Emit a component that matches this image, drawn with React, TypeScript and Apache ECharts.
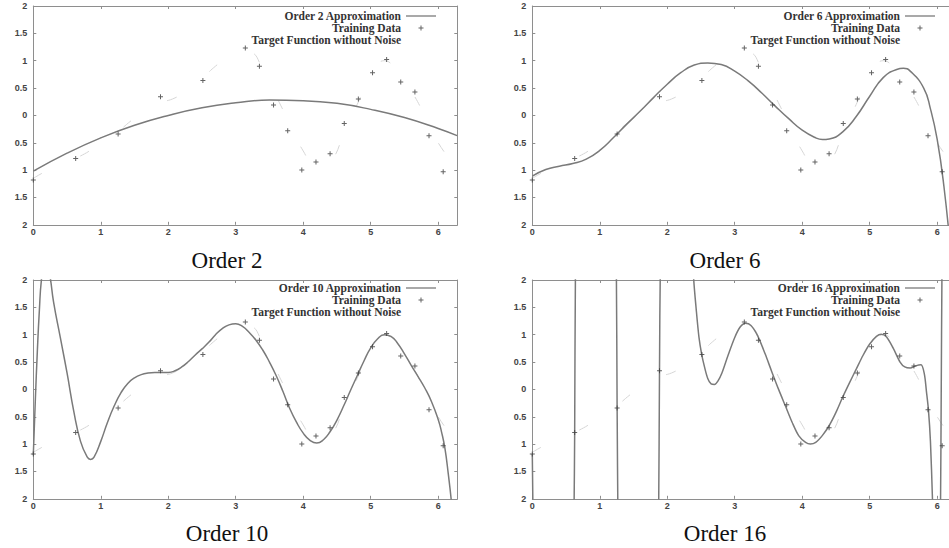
import React, { useEffect, useRef } from 'react';
import * as echarts from 'echarts';

// ---------- data ----------
const panelTitles = ['Order 2', 'Order 6', 'Order 10', 'Order 16'];
const approxNames = ['Order 2 Approximation', 'Order 6 Approximation', 'Order 10 Approximation', 'Order 16 Approximation'];
const trainName = 'Training Data';
const targetName = 'Target Function without Noise';

const xTrain = [0, 0.628, 1.257, 1.885, 2.513, 3.142, 3.351, 3.56, 3.77, 3.979, 4.189, 4.398, 4.608, 4.817, 5.027, 5.236, 5.445, 5.655, 5.864, 6.074];
const yTrain = [-1.18, -0.79, -0.34, 0.34, 0.64, 1.23, 0.9, 0.19, -0.28, -1.0, -0.85, -0.7, -0.15, 0.3, 0.78, 1.02, 0.61, 0.43, -0.37, -1.03];

const xTarget = [0, 0.3, 0.6, 0.9, 1.2, 1.5, 1.8, 2.1, 2.4, 2.7, 3.0, 3.2, 3.4, 3.6, 3.8, 4.0, 4.2, 4.4, 4.6, 4.8, 5.0, 5.2, 5.4, 5.6, 5.8, 6.0, 6.28];
const yTarget = [-1.15, -0.95, -0.8, -0.6, -0.35, -0.05, 0.2, 0.32, 0.55, 0.9, 1.15, 1.15, 0.85, 0.35, -0.15, -0.65, -0.95, -0.85, -0.35, 0.2, 0.72, 1.0, 0.8, 0.45, 0.0, -0.5, -0.97];

const xOrder2 = [0, 0.5, 1, 1.5, 2, 2.5, 3, 3.5, 4, 4.5, 5, 5.5, 6, 6.28];
const yOrder2 = [-1.02, -0.69, -0.41, -0.18, 0.0, 0.14, 0.23, 0.28, 0.27, 0.22, 0.11, -0.04, -0.24, -0.37];

const xOrder6 = [0, 0.2, 0.4, 0.6, 0.8, 1.0, 1.2, 1.4, 1.6, 1.8, 2.0, 2.2, 2.4, 2.6, 2.8, 3.0, 3.2, 3.4, 3.6, 3.8, 4.0, 4.2, 4.3, 4.4, 4.6, 4.8, 5.0, 5.2, 5.4, 5.5, 5.6, 5.8, 5.9, 6.0, 6.1, 6.2];
const yOrder6 = [-1.11, -0.99, -0.93, -0.88, -0.8, -0.64, -0.41, -0.16, 0.08, 0.33, 0.57, 0.78, 0.92, 0.96, 0.93, 0.81, 0.63, 0.41, 0.17, -0.06, -0.27, -0.41, -0.44, -0.43, -0.3, -0.02, 0.35, 0.69, 0.84, 0.86, 0.81, 0.5, 0.12, -0.44, -1.3, -2.5];

const xOrder10 = [0, 0.03, 0.06, 0.09, 0.12, 0.18, 0.25, 0.3, 0.4, 0.5, 0.6, 0.7, 0.8, 0.85, 0.9, 1.0, 1.1, 1.2, 1.3, 1.4, 1.5, 1.6, 1.7, 1.8, 1.9, 2.0, 2.1, 2.2, 2.3, 2.4, 2.5, 2.6, 2.7, 2.8, 2.9, 3.0, 3.1, 3.2, 3.3, 3.4, 3.5, 3.6, 3.7, 3.8, 3.9, 4.0, 4.1, 4.2, 4.3, 4.4, 4.5, 4.6, 4.7, 4.8, 4.9, 5.0, 5.1, 5.2, 5.3, 5.4, 5.5, 5.6, 5.7, 5.8, 5.9, 6.0, 6.05, 6.1, 6.15, 6.2, 6.25];
const yOrder10 = [-1.2, -0.2, 0.7, 1.45, 2.0, 2.5, 2.05, 1.6, 0.95, 0.3, -0.4, -0.95, -1.24, -1.28, -1.24, -0.95, -0.6, -0.3, -0.06, 0.11, 0.21, 0.27, 0.3, 0.31, 0.31, 0.31, 0.34, 0.41, 0.51, 0.63, 0.74, 0.86, 1.0, 1.11, 1.18, 1.2, 1.15, 1.04, 0.9, 0.72, 0.5, 0.25, -0.04, -0.35, -0.6, -0.8, -0.93, -0.98, -0.92, -0.77, -0.56, -0.3, -0.02, 0.25, 0.52, 0.76, 0.92, 1.0, 0.97, 0.84, 0.65, 0.44, 0.24, 0.03, -0.22, -0.55, -0.78, -1.08, -1.55, -2.1, -2.8];

const xOrder16 = [0, 0.012, 0.3, 0.618, 0.628, 0.64, 0.95, 1.245, 1.257, 1.27, 1.57, 1.872, 1.885, 1.898, 2.15, 2.38, 2.39, 2.43, 2.47, 2.51, 2.55, 2.6, 2.65, 2.7, 2.75, 2.81, 2.9, 3.0, 3.08, 3.16, 3.24, 3.34, 3.45, 3.55, 3.65, 3.75, 3.85, 3.95, 4.05, 4.12, 4.2, 4.3, 4.4, 4.5, 4.6, 4.7, 4.8, 4.9, 5.0, 5.1, 5.17, 5.25, 5.35, 5.45, 5.52, 5.6, 5.68, 5.76, 5.81, 5.84, 5.87, 5.9, 5.93, 5.96, 6.0, 6.03, 6.05, 6.06, 6.07, 6.1, 6.283];
const yOrder16 = [-1.18, -2.5, -40, -2.3, -0.79, 2.3, 40, 2.3, -0.34, -2.5, -40, -2.3, 0.34, 2.3, 20, 2.6, 2.05, 1.45, 0.95, 0.64, 0.42, 0.2, 0.1, 0.09, 0.15, 0.3, 0.62, 0.95, 1.14, 1.21, 1.17, 0.98, 0.65, 0.32, 0.0, -0.3, -0.6, -0.85, -0.97, -1.0, -0.97, -0.84, -0.66, -0.42, -0.14, 0.12, 0.37, 0.62, 0.83, 0.97, 1.01, 0.96, 0.75, 0.5, 0.41, 0.39, 0.43, 0.45, 0.28, -0.03, -0.37, -0.95, -2.0, -3.2, -4.5, -3.6, -2.0, 0.0, 2.0, 6, 40];

const approxX = [xOrder2, xOrder6, xOrder10, xOrder16];
const approxY = [yOrder2, yOrder6, yOrder10, yOrder16];

// ---------- layout / style ----------
const X_MAX = 6.2832;
const GRID_LEFT = [33.3, 532.3, 33.3, 532.3];
const GRID_TOP = [6, 6, 280, 280];
const GRID_W = 424;
const GRID_H = 218.8;
const LEGEND_RIGHT = [534, 35, 534, 35];
const LEGEND_TOP = [10, 10, 282, 282];
const TITLE_X = [227, 725, 227, 725];
const TITLE_Y = [260, 260, 533, 533];
const FRAME = '#8e8e8e';
const CURVE = '#7a7a7a';
const LABEL_COLOR = '#444';
const PLUS = 'path://M4,0h2v4h4v2h-4v4h-2v-4h-4v-2h4z';
const PLUS_ICON = 'path://M0,0h0.01v0.01h-0.01zM17.99,17.99h0.01v0.01h-0.01zM8,4h2v4h4v2h-4v4h-2v-4h-4v-2h4z';
const LINE_ICON = 'path://M0,0h30v1.3h-30z';

const pairs = (xs: number[], ys: number[]) => xs.map((x, k) => [x, ys[k]]);

function xAxisFor(gi: number, position: 'bottom' | 'top', showLabel: boolean) {
  return {
    type: 'value', gridIndex: gi, position, min: 0, max: X_MAX, interval: 1,
    axisLine: { show: true, onZero: false, lineStyle: { color: FRAME, width: 1 } },
    axisTick: { show: true, inside: true, length: 3, lineStyle: { color: FRAME } },
    axisLabel: {
      show: showLabel, margin: 3, fontSize: 9, fontWeight: 'bold', fontFamily: 'Liberation Sans', color: LABEL_COLOR,
      formatter: (v: number) => (Number.isInteger(v) ? String(v) : ''),
    },
    splitLine: { show: false },
  };
}

function yAxisFor(gi: number, position: 'left' | 'right', showLabel: boolean) {
  return {
    type: 'value', gridIndex: gi, position, min: -2, max: 2, interval: 0.5,
    axisLine: { show: true, onZero: false, lineStyle: { color: FRAME, width: 1 } },
    axisTick: { show: true, inside: true, length: 3, lineStyle: { color: FRAME } },
    axisLabel: {
      show: showLabel, margin: 6, fontSize: 9, fontWeight: 'bold', fontFamily: 'Liberation Sans', color: LABEL_COLOR,
      formatter: (v: number) => String(Math.abs(v)),
    },
    splitLine: { show: false },
  };
}

function buildOption() {
  const grid: any[] = [];
  const xAxis: any[] = [];
  const yAxis: any[] = [];
  const series: any[] = [];
  const legend: any[] = [];
  const graphic: any[] = [];
  for (let i = 0; i < 4; i++) {
    grid.push({ left: GRID_LEFT[i], top: GRID_TOP[i], width: GRID_W, height: GRID_H, containLabel: false });
    xAxis.push(xAxisFor(i, 'bottom', true), xAxisFor(i, 'top', false));
    yAxis.push(yAxisFor(i, 'left', true), yAxisFor(i, 'right', false));
    const xi = 2 * i;
    series.push(
      {
        type: 'line', name: targetName, xAxisIndex: xi, yAxisIndex: xi,
        data: pairs(xTarget, yTarget), symbol: 'none', smooth: 0.5, silent: true, z: 1,
        itemStyle: { color: '#d6d6d6' },
        lineStyle: { color: '#d6d6d6', width: 1, type: [10, 42] },
      },
      {
        type: 'line', name: approxNames[i], xAxisIndex: xi, yAxisIndex: xi,
        data: pairs(approxX[i], approxY[i]), symbol: 'none', smooth: i === 3 ? 0.3 : 0.5,
        clip: true, silent: true, z: 2,
        itemStyle: { color: CURVE },
        lineStyle: { color: CURVE, width: 1.5 },
      },
      {
        type: 'scatter', name: trainName, xAxisIndex: xi, yAxisIndex: xi,
        data: pairs(xTrain, yTrain), symbol: PLUS, symbolSize: 5, silent: true, z: 3,
        itemStyle: { color: '#3c3c3c' },
      }
    );
    legend.push({
      orient: 'vertical', align: 'right', right: LEGEND_RIGHT[i], top: LEGEND_TOP[i], padding: 0,
      itemWidth: 30, itemHeight: 9, itemGap: 0, selectedMode: false,
      textStyle: { fontFamily: 'Liberation Serif', fontWeight: 'bold', fontSize: 11.5, color: '#333', lineHeight: 9 },
      data: [
        { name: approxNames[i], icon: LINE_ICON },
        { name: trainName, icon: PLUS_ICON },
        { name: targetName, icon: 'none' },
      ],
    });
    graphic.push({
      type: 'text', x: TITLE_X[i], y: TITLE_Y[i],
      style: {
        text: panelTitles[i], font: '23px "Liberation Serif"', fill: '#111',
        align: 'center', verticalAlign: 'middle', textAlign: 'center', textVerticalAlign: 'middle',
      },
    });
  }
  return { animation: false, backgroundColor: '#fff', grid, xAxis, yAxis, series, legend, graphic };
}

export default function App() {
  const ref = useRef<HTMLDivElement>(null);
  useEffect(() => {
    if (!ref.current) return;
    const chart = echarts.init(ref.current, null, { renderer: 'svg' });
    chart.setOption(buildOption() as any);
    return () => chart.dispose();
  }, []);
  return (
    <div style={{ position: 'fixed', left: 0, top: 0, width: 949, height: 548, overflow: 'hidden', background: '#fff' }}>
      <div ref={ref} style={{ width: 970, height: 548 }} />
    </div>
  );
}
